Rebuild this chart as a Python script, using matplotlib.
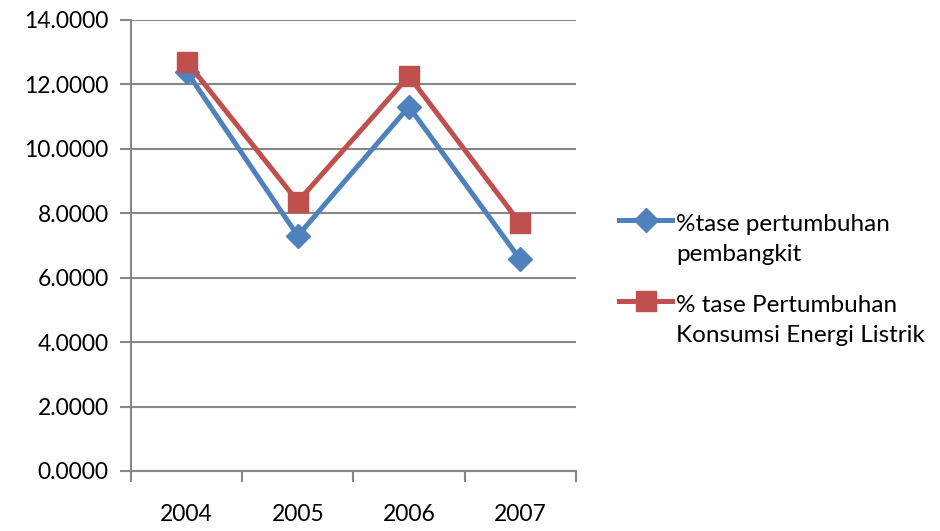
import matplotlib
matplotlib.use("Agg")
import matplotlib.pyplot as plt
from matplotlib.legend_handler import HandlerLine2D
import numpy as np

years = ["2004", "2005", "2006", "2007"]
pembangkit = [12.40, 7.30, 11.31, 6.57]
konsumsi = [12.71, 8.36, 12.26, 7.69]
labels = ["%tase pertumbuhan\npembangkit",
          "% tase Pertumbuhan\nKonsumsi Energi Listrik"]

plt.rcParams['font.family'] = ['Lato', 'DejaVu Sans']


class RaisedLine(HandlerLine2D):
    # put the legend handle next to the first line of a two-line label
    def __init__(self, shift, **kw):
        super().__init__(**kw)
        self.shift = shift

    def create_artists(self, legend, orig_handle, xdescent, ydescent,
                       width, height, fontsize, trans):
        arts = super().create_artists(legend, orig_handle, xdescent, ydescent,
                                      width, height, fontsize, trans)
        for a in arts:
            a.set_ydata(np.asarray(a.get_ydata()) + self.shift * fontsize)
        return arts


fig = plt.figure(figsize=(9.4, 5.31), dpi=100)
ax = fig.add_axes([0.1394, 0.113, 0.473, 0.8494])

x = np.arange(len(years))
grid_col = '#878787'

l1, = ax.plot(x, pembangkit, color='#4F81BD', lw=3.6, marker='D', markersize=12,
              label=labels[0], zorder=3)
l2, = ax.plot(x, konsumsi, color='#C0504D', lw=3.6, marker='s', markersize=14,
              label=labels[1], zorder=4)

ax.set_xlim(-0.5, len(years) - 0.5)
ax.set_ylim(0, 14)
ax.set_yticks(np.arange(0, 15, 2))
ax.set_yticklabels(['%.4f' % v for v in np.arange(0, 15, 2)])
ax.set_xticks(x)
ax.set_xticklabels(years)
ax.set_xticks(np.arange(-0.5, len(years)), minor=True)

ax.grid(axis='y', color=grid_col, lw=1.5)
ax.set_axisbelow(True)
for s in ['top', 'right']:
    ax.spines[s].set_visible(False)
for s in ['left', 'bottom']:
    ax.spines[s].set_color(grid_col)
    ax.spines[s].set_linewidth(1.5)

ax.tick_params(axis='y', length=8, width=1.5, color=grid_col, labelsize=16.5, pad=8)
ax.tick_params(axis='x', which='major', length=0, labelsize=16.5, pad=24)
ax.tick_params(axis='x', which='minor', length=8, width=1.5, color=grid_col)

leg = ax.legend(loc='upper left', bbox_to_anchor=(1.048, 0.618), frameon=False,
                fontsize=17.5, handlelength=2.2, handletextpad=0.15,
                labelspacing=1.2,
                handler_map={l1: RaisedLine(0.8), l2: RaisedLine(0.8)})
for t in leg.get_texts():
    t.set_linespacing(1.55)

fig.savefig('out.png', dpi=100)
